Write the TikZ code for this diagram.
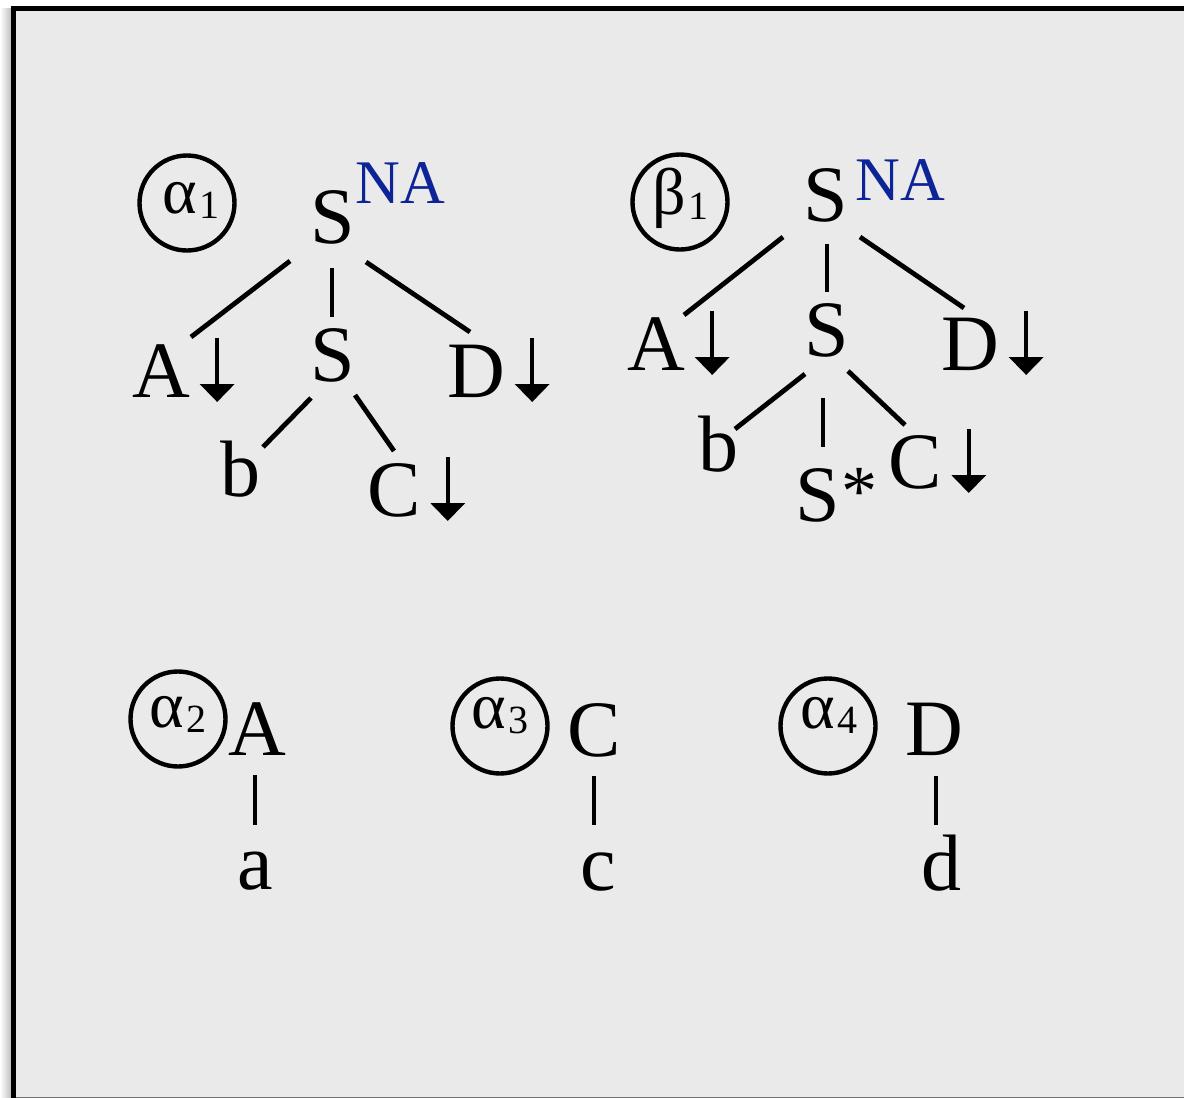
\documentclass[tikz,border=0pt]{standalone}
\usepackage{fontspec}
\setmainfont{Liberation Serif}
\usetikzlibrary{arrows.meta}

\definecolor{panel}{RGB}{234,234,234}
\definecolor{nablue}{RGB}{12,36,150}

% substitution marker: a heavy down arrow set after a node label
\newcommand\substmark{\hspace{5pt}\tikz[baseline=0pt]{\draw[line width=2pt,line cap=butt,-{Triangle[width=17pt,length=9pt]}] (0pt,29.5pt) -- (0pt,-2.5pt);}}
% foot marker of an auxiliary tree
\newcommand\footmark{\hspace{1pt}\raisebox{3pt}{\fontsize{36}{36}\selectfont *}}
% tree name: Greek letter with a numeric subscript
\newcommand\treename[2]{\fontsize{33}{33}\selectfont #1\hspace{1.5pt}\raisebox{-2.5pt}{\fontsize{20}{20}\selectfont #2}}

\tikzset{
  lbl/.style={inner sep=0pt, font=\fontsize{40}{40}\selectfont},
  natag/.style={inner sep=0pt, anchor=base west, text=nablue, font=\fontsize{31}{31}\selectfont},
  tag/.style={circle, draw, line width=2.2pt, minimum size=47.5pt, inner sep=0pt},
  tagtext/.style={inner sep=0pt, anchor=base west},
  branch/.style={line width=2.4pt},
}

\begin{document}
\begin{tikzpicture}[x=0.5pt,y=-0.5pt]
\useasboundingbox (0,0) rectangle (1184,1098);
\fill[white] (0,0) rectangle (1184,1098);
% panel with its frame
\shade[left color=white, right color=black!25] (0,8) rectangle (11,1098);
\fill[panel] (13.5,8.5) rectangle (1184,1098);
\draw[black!55, line width=0.5pt] (13.5,1097.5) -- (1184,1097.5);
\draw[black, line width=2.5pt] (13.5,1098) -- (13.5,8.5) -- (1184,8.5);

% ---- alpha_1 ----
\node[tag] (t1) at (187,203) {};
\node[tagtext] (t1n) at (162,213) {\treename{α}{1}};
\node[lbl, anchor=base] (r1) at (333,243) {S};
\node[natag] (na1) at (355,203) {NA};
\node[lbl, anchor=base west] (a1) at (132,397) {A\substmark};
\node[lbl, anchor=base] (s1) at (333,381) {S};
\node[lbl, anchor=base west] (d1) at (447,397) {D\substmark};
\node[lbl, anchor=base] (b1) at (240,496) {b};
\node[lbl, anchor=base west] (c1) at (367,516) {C\substmark};
\draw[branch] ([shift={(-43,18)}]r1.base) -- ([shift={(59,-60)}]a1.base west);
\draw[branch] ([shift={(-1,25)}]r1.base) -- ([shift={(-1,-64)}]s1.base);
\draw[branch] ([shift={(33,19)}]r1.base) -- ([shift={(23,-65)}]d1.base west);
\draw[branch] ([shift={(-22,17)}]s1.base) -- ([shift={(23,-49)}]b1.base);
\draw[branch] ([shift={(22,14)}]s1.base) -- ([shift={(27,-65)}]c1.base west);

% ---- beta_1 ----
\node[tag] (t2) at (680,202) {};
\node[tagtext] (t2n) at (652,214) {\treename{β}{1}};
\node[lbl, anchor=base] (r2) at (826,221) {S};
\node[natag] (na2) at (855,200) {NA};
\node[lbl, anchor=base west] (a2) at (627,370) {A\substmark};
\node[lbl, anchor=base] (s2) at (827,356) {S};
\node[lbl, anchor=base west] (d2) at (941,370) {D\substmark};
\node[lbl, anchor=base] (b2) at (718,471) {b};
\node[lbl, anchor=base west] (f2) at (795,521) {S\footmark};
\node[lbl, anchor=base west] (c2) at (888,488) {C\substmark};
\draw[branch] ([shift={(-43,16)}]r2.base) -- ([shift={(57,-55)}]a2.base west);
\draw[branch] ([shift={(1,23)}]r2.base) -- ([shift={(0,-64)}]s2.base);
\draw[branch] ([shift={(34,16)}]r2.base) -- ([shift={(23,-62)}]d2.base west);
\draw[branch] ([shift={(-22,18)}]s2.base) -- ([shift={(17,-42)}]b2.base);
\draw[branch] ([shift={(-4,42)}]s2.base) -- ([shift={(28,-74)}]f2.base west);
\draw[branch] ([shift={(21,15)}]s2.base) -- ([shift={(17,-63)}]c2.base west);

% ---- alpha_2 ----
\node[tag] (t3) at (178,719) {};
\node[tagtext] (t3n) at (149,727) {\treename{α}{2}};
\node[lbl, anchor=base] (ta) at (257,755) {A};
\node[lbl, anchor=base] (la) at (255,889) {a};
\draw[branch] ([shift={(-2,20)}]ta.base) -- ([shift={(0,-64)}]la.base);

% ---- alpha_3 ----
\node[tag] (t4) at (500,726) {};
\node[tagtext] (t4n) at (471,728) {\treename{α}{3}};
\node[lbl, anchor=base] (tc) at (594,756) {C};
\node[lbl, anchor=base] (lc) at (598,890) {c};
\draw[branch] ([shift={(0,20)}]tc.base) -- ([shift={(-4,-65)}]lc.base);

% ---- alpha_4 ----
\node[tag] (t5) at (828,726) {};
\node[tagtext] (t5n) at (800,728) {\treename{α}{4}};
\node[lbl, anchor=base] (td) at (934,755) {D};
\node[lbl, anchor=base] (ld) at (941,890) {d};
\draw[branch] ([shift={(2,21)}]td.base) -- ([shift={(-5,-65)}]ld.base);
\end{tikzpicture}
\end{document}
